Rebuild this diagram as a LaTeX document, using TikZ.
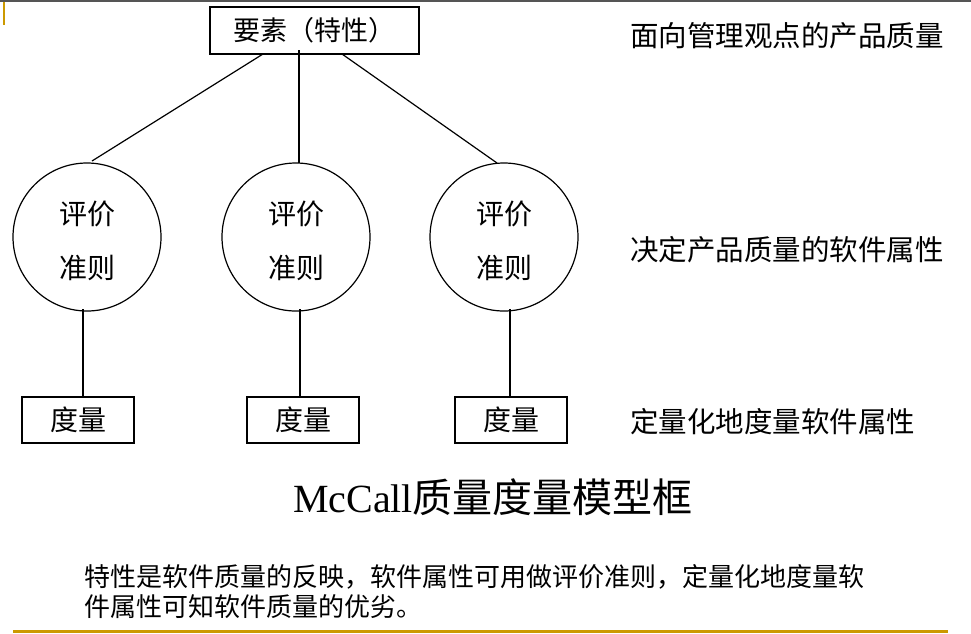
\documentclass[tikz,border=0pt]{standalone}
\usepackage{fontspec}
\setmainfont{Liberation Serif}
\newfontfamily\cjk{Noto Sans CJK SC}
\definecolor{gold}{RGB}{204,153,0}
\definecolor{topgray}{RGB}{85,85,85}
\begin{document}
\begin{tikzpicture}[x=1pt,y=-1pt,
  every node/.style={inner sep=0pt,outer sep=0pt},
  boxnode/.style={draw,line width=1.2pt,rectangle,font=\cjk\fontsize{28}{30}\selectfont},
  critnode/.style={draw,line width=1.2pt,circle,minimum size=148pt,align=center,font=\cjk\fontsize{28}{54}\selectfont},
  sidelabel/.style={anchor=west,font=\cjk\fontsize{28.5}{30}\selectfont},
  link/.style={line width=1.2pt}]
\useasboundingbox (0,0) rectangle (971,633);
% frame decorations
\draw[topgray,line width=1.5pt] (0,0.75) -- (971,0.75);
\draw[gold,line width=2pt] (4,2) -- (4,25);
\draw[gold,line width=3pt] (13,631.5) -- (948,631.5);
% top element
\node[boxnode,minimum width=209pt,minimum height=47pt,font=\cjk\fontsize{27}{30}\selectfont] (top) at (314.5,30.5) {要素（特性）};
% criteria circles
\node[critnode] (c1) at (87,237) {\rule{0pt}{32pt}评价\\准则};
\node[critnode] (c2) at (296,237) {\rule{0pt}{32pt}评价\\准则};
\node[critnode] (c3) at (504,237) {\rule{0pt}{32pt}评价\\准则};
% metrics
\node[boxnode,minimum width=112pt,minimum height=46pt] (m1) at (78,420) {度量};
\node[boxnode,minimum width=112pt,minimum height=46pt] (m2) at (303,420) {度量};
\node[boxnode,minimum width=112pt,minimum height=46pt] (m3) at (511,420) {度量};
% connectors
\draw[link] ([xshift=53pt]top.south west) -- ([xshift=5pt,yshift=2pt]c1.north);
\draw[link] ([xshift=89pt,yshift=4pt]top.south west) -- ([xshift=3pt]c2.north);
\draw[link] ([xshift=132pt]top.south west) -- ([xshift=-7pt]c3.north);
\draw[link] ([xshift=-4pt,yshift=2pt]c1.south) -- ([xshift=-4pt]c1.south |- m1.north);
\draw[link] ([xshift=4pt,yshift=2pt]c2.south) -- ([xshift=4pt]c2.south |- m2.north);
\draw[link] ([xshift=6pt,yshift=2pt]c3.south) -- ([xshift=6pt]c3.south |- m3.north);
% side labels
\node[sidelabel] (l1) at (630,36) {面向管理观点的产品质量};
\node[sidelabel] (l2) at (630,250) {决定产品质量的软件属性};
\node[sidelabel] (l3) at (630,422) {定量化地度量软件属性};
% title
\node (title) at (493,497) {\fontsize{40}{44}\selectfont McCall{\cjk 质量度量模型框}};
% note
\node[anchor=north west,align=left,font=\cjk\fontsize{26}{30}\selectfont] (note) at (84,564) {特性是软件质量的反映，软件属性可用做评价准则，定量化地度量软\\件属性可知软件质量的优劣。};
\end{tikzpicture}
\end{document}
